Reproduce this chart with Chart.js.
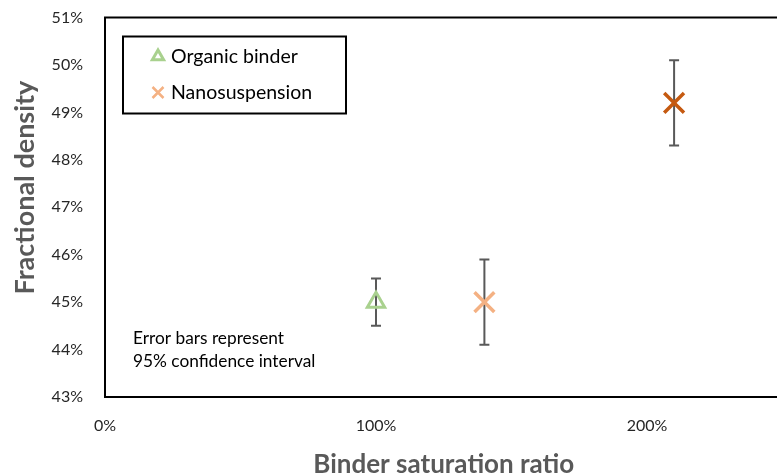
<!DOCTYPE html>
<html>
<head>
<meta charset="utf-8">
<script src="https://cdn.jsdelivr.net/npm/chart.js@4/dist/chart.umd.min.js"></script>
<style>
  html, body { margin: 0; padding: 0; background: #fff; overflow: hidden; }
  #wrap { width: 800px; height: 475px; position: relative; }
</style>
</head>
<body>
<div id="wrap"><canvas id="c"></canvas></div>
<script>
// ---- data ----
const organicX = [100];
const organicY = [45.0];
const organicErr = [0.5];
const nanoX = [140, 210];
const nanoY = [45.0, 49.2];
const nanoErr = [0.9, 0.9];
const xTickValues = [0, 100, 200];
const yTickValues = [43, 44, 45, 46, 47, 48, 49, 50, 51];
const seriesNames = ['Organic binder', 'Nanosuspension'];
const noteLines = ['Error bars represent', '95% confidence interval'];
const xTitle = 'Binder saturation ratio';
const yTitle = '      Fractional density';

const FONT = 'Lato, "Open Sans", sans-serif';
const green = '#A9D18E';
const lightOrange = '#F4B183';
const darkOrange = '#C55A11';
const nanoColors = [lightOrange, darkOrange];

const toPoints = (xs, ys, errs) => xs.map((x, i) => ({ x: x, y: ys[i], err: errs[i] }));

const errorBars = {
  id: 'errorBars',
  beforeDatasetsDraw(chart) {
    const ctx = chart.ctx;
    const xs = chart.scales.x, ys = chart.scales.y;
    ctx.save();
    ctx.strokeStyle = '#595959';
    ctx.lineWidth = 2;
    chart.data.datasets.forEach(ds => {
      ds.data.forEach(p => {
        const px = xs.getPixelForValue(p.x);
        const top = ys.getPixelForValue(p.y + p.err);
        const bot = ys.getPixelForValue(p.y - p.err);
        ctx.beginPath();
        ctx.moveTo(px, top); ctx.lineTo(px, bot);
        ctx.moveTo(px - 5, top); ctx.lineTo(px + 5, top);
        ctx.moveTo(px - 5, bot); ctx.lineTo(px + 5, bot);
        ctx.stroke();
      });
    });
    ctx.restore();
  }
};

const frame = {
  id: 'frame',
  afterDraw(chart) {
    const ctx = chart.ctx;
    const a = chart.chartArea;
    ctx.save();
    ctx.strokeStyle = '#000';
    ctx.lineWidth = 2;
    ctx.strokeRect(a.left, a.top, a.right - a.left, a.bottom - a.top);

    // legend box
    const lx = a.left + 18, ly = a.top + 19, lw = 223, lh = 77;
    ctx.lineWidth = 2;
    ctx.strokeRect(lx, ly, lw, lh);
    // triangle marker
    const mx = lx + 35;
    const my = ly + 20;
    ctx.strokeStyle = green; ctx.lineWidth = 3;
    const r = 6.5;
    ctx.beginPath();
    ctx.moveTo(mx, my - r);
    ctx.lineTo(mx + r * 0.866, my + r * 0.5);
    ctx.lineTo(mx - r * 0.866, my + r * 0.5);
    ctx.closePath();
    ctx.stroke();
    // cross marker
    const my2 = ly + 56;
    ctx.strokeStyle = lightOrange; ctx.lineWidth = 2.5;
    const c = 5.5;
    ctx.beginPath();
    ctx.moveTo(mx - c, my2 - c); ctx.lineTo(mx + c, my2 + c);
    ctx.moveTo(mx + c, my2 - c); ctx.lineTo(mx - c, my2 + c);
    ctx.stroke();
    ctx.fillStyle = '#000';
    ctx.font = '19.5px ' + FONT;
    ctx.textBaseline = 'middle';
    ctx.textAlign = 'left';
    ctx.fillText(seriesNames[0], lx + 48, my);
    ctx.fillText(seriesNames[1], lx + 48, my2);

    // note
    ctx.fillStyle = '#000';
    ctx.font = '17.3px ' + FONT;
    ctx.fillText(noteLines[0], a.left + 28, 338);
    ctx.fillText(noteLines[1], a.left + 28, 361);
    ctx.restore();
  }
};

new Chart(document.getElementById('c'), {
  type: 'scatter',
  data: {
    datasets: [
      {
        label: seriesNames[0],
        data: toPoints(organicX, organicY, organicErr),
        pointStyle: 'triangle',
        pointRadius: 10,
        pointBorderWidth: 3,
        pointBackgroundColor: 'rgba(0,0,0,0)',
        pointBorderColor: green
      },
      {
        label: seriesNames[1],
        data: toPoints(nanoX, nanoY, nanoErr),
        pointStyle: 'crossRot',
        pointRadius: 14,
        pointBorderWidth: 3.5,
        pointBorderColor: nanoColors,
        pointBackgroundColor: nanoColors
      }
    ]
  },
  options: {
    responsive: true,
    maintainAspectRatio: false,
    animation: false,
    layout: { padding: { left: 0, right: 11, top: 16, bottom: 0 } },
    plugins: { legend: { display: false }, tooltip: { enabled: false } },
    scales: {
      x: {
        type: 'linear',
        min: 0, max: 250,
        afterBuildTicks: s => { s.ticks = xTickValues.map(v => ({ value: v })); },
        afterFit: s => { s.height = 78; s.paddingLeft = 0; s.paddingRight = 0; },
        grid: { display: false, drawTicks: false },
        border: { display: false },
        ticks: {
          padding: 19,
          color: '#262626',
          font: { family: FONT, size: 16 },
          callback: v => v + '%',
          maxRotation: 0
        },
        title: {
          display: true, text: xTitle, color: '#595959',
          font: { family: FONT, size: 26, weight: 'bold', lineHeight: 0.8 },
          padding: 0
        }
      },
      y: {
        type: 'linear',
        min: 43, max: 51,
        afterBuildTicks: s => { s.ticks = yTickValues.map(v => ({ value: v })); },
        afterFit: s => { s.width = 105; s.paddingTop = 0; s.paddingBottom = 0; },
        grid: { display: false, drawTicks: false },
        border: { display: false },
        ticks: {
          padding: 22,
          color: '#262626',
          font: { family: FONT, size: 16 },
          callback: v => v + '%'
        },
        title: {
          display: true, text: yTitle, color: '#595959',
          font: { family: FONT, size: 27, weight: 'bold' },
          padding: { top: 9, bottom: 0 }
        }
      }
    }
  },
  plugins: [errorBars, frame]
});
</script>
</body>
</html>
